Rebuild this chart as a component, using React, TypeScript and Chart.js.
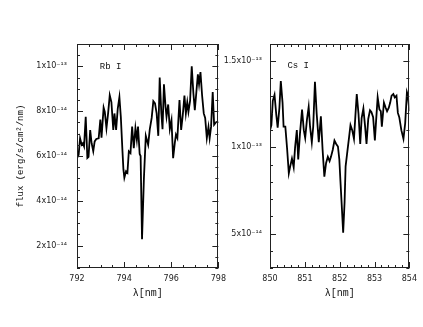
import React, { useEffect, useRef } from "react";
import { Chart, registerables } from "chart.js";

Chart.register(...registerables);

// ---- Rb I panel data (flux in units of 1e-14 erg/s/cm2/nm) ----
const rbWavelength = [
  792.0, 792.07, 792.13, 792.2, 792.25, 792.3, 792.37, 792.44, 792.49, 792.56,
  792.62, 792.69, 792.75, 792.82, 792.92, 792.99, 793.04, 793.13, 793.18, 793.25,
  793.32, 793.39, 793.46, 793.54, 793.59, 793.66, 793.73, 793.8, 793.86, 793.93,
  793.97, 794.01, 794.08, 794.14, 794.2, 794.27, 794.34, 794.41, 794.48, 794.54,
  794.59, 794.66, 794.7, 794.76, 794.84, 794.92, 795.02, 795.09, 795.17, 795.24,
  795.31, 795.38, 795.45, 795.51, 795.58, 795.63, 795.69, 795.76, 795.8, 795.87,
  795.94, 796.01, 796.08, 796.15, 796.2, 796.26, 796.35, 796.42, 796.49, 796.56,
  796.62, 796.68, 796.73, 796.8, 796.87, 796.94, 797.0, 797.07, 797.13, 797.18,
  797.24, 797.31, 797.38, 797.44, 797.51, 797.58, 797.63, 797.69, 797.76, 797.82,
  797.89, 798.0,
];
const rbFlux = [
  5.91, 6.06, 6.79, 6.5, 6.57, 6.43, 7.75, 5.91, 5.96, 7.16,
  6.57, 6.21, 6.65, 6.76, 6.79, 7.63, 6.82, 8.16, 7.97, 7.24,
  7.9, 8.71, 8.41, 7.16, 7.9, 7.16, 8.12, 8.63, 7.75, 6.21,
  5.4, 5.03, 5.32, 5.25, 6.21, 6.13, 7.31, 6.35, 7.24, 6.72,
  7.31, 6.09, 6.0, 2.28, 5.0, 6.9, 6.5, 7.2, 7.7, 8.45,
  8.35, 7.9, 6.9, 9.5, 7.9, 7.2, 9.2, 8.17, 7.75, 8.3,
  7.2, 7.6, 5.9, 6.57, 6.95, 6.8, 8.5, 7.16, 7.83, 8.7,
  7.9, 8.4, 7.97, 8.47, 10.0, 8.8, 8.05, 8.9, 9.65, 9.2,
  9.75, 8.7, 7.9, 7.7, 6.8, 7.3, 6.8, 7.3, 8.85, 7.4,
  7.5, 7.55,
];
const rbXTicks = [792, 794, 796, 798];
const rbXTickLabels = ["792", "794", "796", "798"];
const rbYTicks = [2, 4, 6, 8, 10];
const rbYTickLabels = ["2x10⁻¹⁴", "4x10⁻¹⁴", "6x10⁻¹⁴", "8x10⁻¹⁴", "1x10⁻¹³"];

// ---- Cs I panel data (flux in units of 1e-14 erg/s/cm2/nm) ----
const csWavelength = [
  850.0, 850.04, 850.08, 850.13, 850.18, 850.22, 850.27, 850.31, 850.36, 850.39,
  850.44, 850.49, 850.54, 850.58, 850.63, 850.68, 850.72, 850.77, 850.81, 850.86,
  850.92, 850.97, 851.01, 851.06, 851.11, 851.15, 851.2, 851.24, 851.29, 851.34,
  851.4, 851.46, 851.51, 851.56, 851.61, 851.66, 851.71, 851.75, 851.8, 851.85,
  851.9, 851.95, 851.99, 852.02, 852.06, 852.1, 852.14, 852.17, 852.22, 852.27,
  852.31, 852.36, 852.41, 852.45, 852.49, 852.54, 852.59, 852.63, 852.68, 852.73,
  852.77, 852.82, 852.87, 852.91, 852.96, 853.01, 853.05, 853.09, 853.14, 853.18,
  853.21, 853.27, 853.32, 853.36, 853.41, 853.45, 853.49, 853.54, 853.58, 853.63,
  853.67, 853.71, 853.77, 853.83, 853.88, 853.93, 853.96, 854.0,
];
const csFlux = [
  11.0, 11.3, 12.7, 13.05, 11.9, 11.15, 12.3, 13.85, 12.6, 11.2,
  11.2, 9.95, 8.5, 8.9, 9.35, 8.85, 10.0, 11.0, 9.3, 10.8,
  12.2, 11.0, 10.55, 11.6, 12.35, 11.2, 10.3, 11.2, 13.8, 11.95,
  10.3, 11.8, 9.85, 8.3, 9.1, 9.45, 9.2, 9.45, 9.85, 10.4,
  10.2, 10.05, 9.3, 8.1, 6.6, 5.05, 6.8, 8.9, 9.75, 10.6,
  11.3, 11.0, 10.5, 11.8, 13.1, 11.95, 10.2, 11.7, 12.25, 11.2,
  10.2, 11.65, 12.15, 12.05, 11.75, 10.4, 11.7, 12.9, 12.2, 12.1,
  11.2, 12.6, 12.3, 12.1, 12.3, 12.6, 13.0, 13.1, 12.9, 13.0,
  12.0, 11.75, 11.0, 10.5, 11.4, 13.2, 13.0, 12.1,
];
const csXTicks = [850, 851, 852, 853, 854];
const csXTickLabels = ["850", "851", "852", "853", "854"];
const csYTicks = [5, 10, 15];
const csYTickLabels = ["5x10⁻¹⁴", "1x10⁻¹³", "1.5x10⁻¹³"];

const yAxisTitle = "flux (erg/s/cm²/nm)";
const xAxisTitle = "λ[nm]";

const TICK_FONT = { family: "'DejaVu Sans', sans-serif", size: 8 };
const MONO = "'Liberation Mono', 'DejaVu Sans Mono', monospace";

const boxTicksPlugin = {
  id: "boxTicks",
  afterDatasetsDraw(chart: any, _args: any, opts: any) {
    const { ctx, chartArea, scales } = chart;
    const { left, right, top, bottom } = chartArea;
    const xs = scales.x;
    const ys = scales.y;
    ctx.save();
    ctx.strokeStyle = "#222";
    ctx.lineWidth = 1;
    ctx.strokeRect(Math.round(left) + 0.5, Math.round(top) + 0.5, Math.round(right - left) - 1, Math.round(bottom - top) - 1);
    const MAJ = 6;
    const MIN = 3;
    const isMajor = (v: number, step: number) => Math.abs(v / step - Math.round(v / step)) < 1e-6;
    ctx.beginPath();
    for (let v = xs.min; v <= xs.max + 1e-9; v += opts.xMinor) {
      const px = Math.round(xs.getPixelForValue(v)) + 0.5;
      const len = isMajor(v, opts.xMajor) ? MAJ : MIN;
      ctx.moveTo(px, bottom);
      ctx.lineTo(px, bottom - len);
      ctx.moveTo(px, top);
      ctx.lineTo(px, top + len);
    }
    const yStart = Math.ceil(ys.min / opts.yMinor - 1e-9) * opts.yMinor;
    for (let v = yStart; v <= ys.max + 1e-9; v += opts.yMinor) {
      const py = Math.round(ys.getPixelForValue(v)) + 0.5;
      const len = isMajor(v, opts.yMajor) ? MAJ : MIN;
      ctx.moveTo(left, py);
      ctx.lineTo(left + len, py);
      ctx.moveTo(right, py);
      ctx.lineTo(right - len, py);
    }
    ctx.stroke();
    ctx.fillStyle = "#111";
    ctx.font = `9px ${MONO}`;
    ctx.textAlign = "left";
    ctx.textBaseline = "middle";
    ctx.fillText(opts.label, xs.getPixelForValue(opts.labelX), ys.getPixelForValue(opts.labelY));
    ctx.restore();
  },
};

function makeConfig(p: any) {
  return {
    type: "line",
    data: {
      datasets: [
        {
          data: p.xs.map((x: number, i: number) => ({ x, y: p.ys[i] })),
          borderColor: "#000",
          borderWidth: 1.8,
          pointRadius: 0,
          tension: 0,
          fill: false,
        },
      ],
    },
    options: {
      responsive: false,
      animation: false,
      devicePixelRatio: 1,
      layout: { padding: p.padding },
      plugins: {
        legend: { display: false },
        tooltip: { enabled: false },
        boxTicks: p.box,
      },
      scales: {
        x: {
          type: "linear",
          min: p.xMin,
          max: p.xMax,
          grid: { display: false, drawTicks: false },
          border: { display: false },
          afterBuildTicks: (s: any) => {
            s.ticks = p.xTicks.map((v: number) => ({ value: v }));
          },
          afterFit: (s: any) => {
            s.height = p.xAxisHeight;
          },
          ticks: {
            autoSkip: false,
            maxRotation: 0,
            padding: 6,
            color: "#222",
            font: TICK_FONT,
            callback: (_v: any, i: number) => p.xLabels[i],
          },
          title: {
            display: true,
            text: xAxisTitle,
            color: "#111",
            font: { family: MONO, size: 10 },
            padding: { top: 0, bottom: 28 },
          },
        },
        y: {
          type: "linear",
          min: p.yMin,
          max: p.yMax,
          grid: { display: false, drawTicks: false },
          border: { display: false },
          afterBuildTicks: (s: any) => {
            s.ticks = p.yTicks.map((v: number) => ({ value: v }));
          },
          afterFit: (s: any) => {
            s.width = p.yAxisWidth;
          },
          ticks: {
            autoSkip: false,
            padding: p.yTickPad,
            color: "#222",
            font: TICK_FONT,
            callback: (_v: any, i: number) => p.yLabels[i],
          },
          title: {
            display: !!p.yTitle,
            text: p.yTitle || "",
            color: "#111",
            font: { family: MONO, size: 9 },
            padding: { top: 15.6, bottom: 0 },
          },
        },
      },
    },
    plugins: [boxTicksPlugin],
  };
}

function Panel(props: { cfg: any; left: number; width: number; height: number }) {
  const ref = useRef<HTMLCanvasElement | null>(null);
  useEffect(() => {
    if (!ref.current) return;
    const chart = new Chart(ref.current, props.cfg);
    return () => chart.destroy();
  }, []);
  return (
    <canvas
      ref={ref}
      width={props.width}
      height={props.height}
      style={{ position: "absolute", left: props.left, top: 0, width: props.width, height: props.height }}
    />
  );
}

const rbConfig = makeConfig({
  xs: rbWavelength,
  ys: rbFlux,
  xMin: 792,
  xMax: 798,
  yMin: 1,
  yMax: 11,
  xTicks: rbXTicks,
  xLabels: rbXTickLabels,
  yTicks: rbYTicks,
  yLabels: rbYTickLabels,
  yTitle: yAxisTitle,
  padding: { left: 0, right: 13, top: 44, bottom: 0 },
  xAxisHeight: 59,
  yAxisWidth: 77,
  yTickPad: 10,
  box: { xMinor: 0.5, xMajor: 2, yMinor: 0.5, yMajor: 2, label: "Rb I", labelX: 792.97, labelY: 10 },
});

const csConfig = makeConfig({
  xs: csWavelength,
  ys: csFlux,
  xMin: 850,
  xMax: 854,
  yMin: 3,
  yMax: 16,
  xTicks: csXTicks,
  xLabels: csXTickLabels,
  yTicks: csYTicks,
  yLabels: csYTickLabels,
  yTitle: "",
  padding: { left: 0, right: 10, top: 44, bottom: 0 },
  xAxisHeight: 59,
  yAxisWidth: 50,
  yTickPad: 8,
  box: { xMinor: 0.2, xMajor: 1, yMinor: 1, yMajor: 5, label: "Cs I", labelX: 850.5, labelY: 14.75 },
});

export default function App() {
  return (
    <div style={{ position: "fixed", left: 0, top: 0, width: 423, height: 327, background: "#fff" }}>
      <Panel cfg={rbConfig} left={0} width={232} height={327} />
      <Panel cfg={csConfig} left={220} width={203} height={327} />
    </div>
  );
}
